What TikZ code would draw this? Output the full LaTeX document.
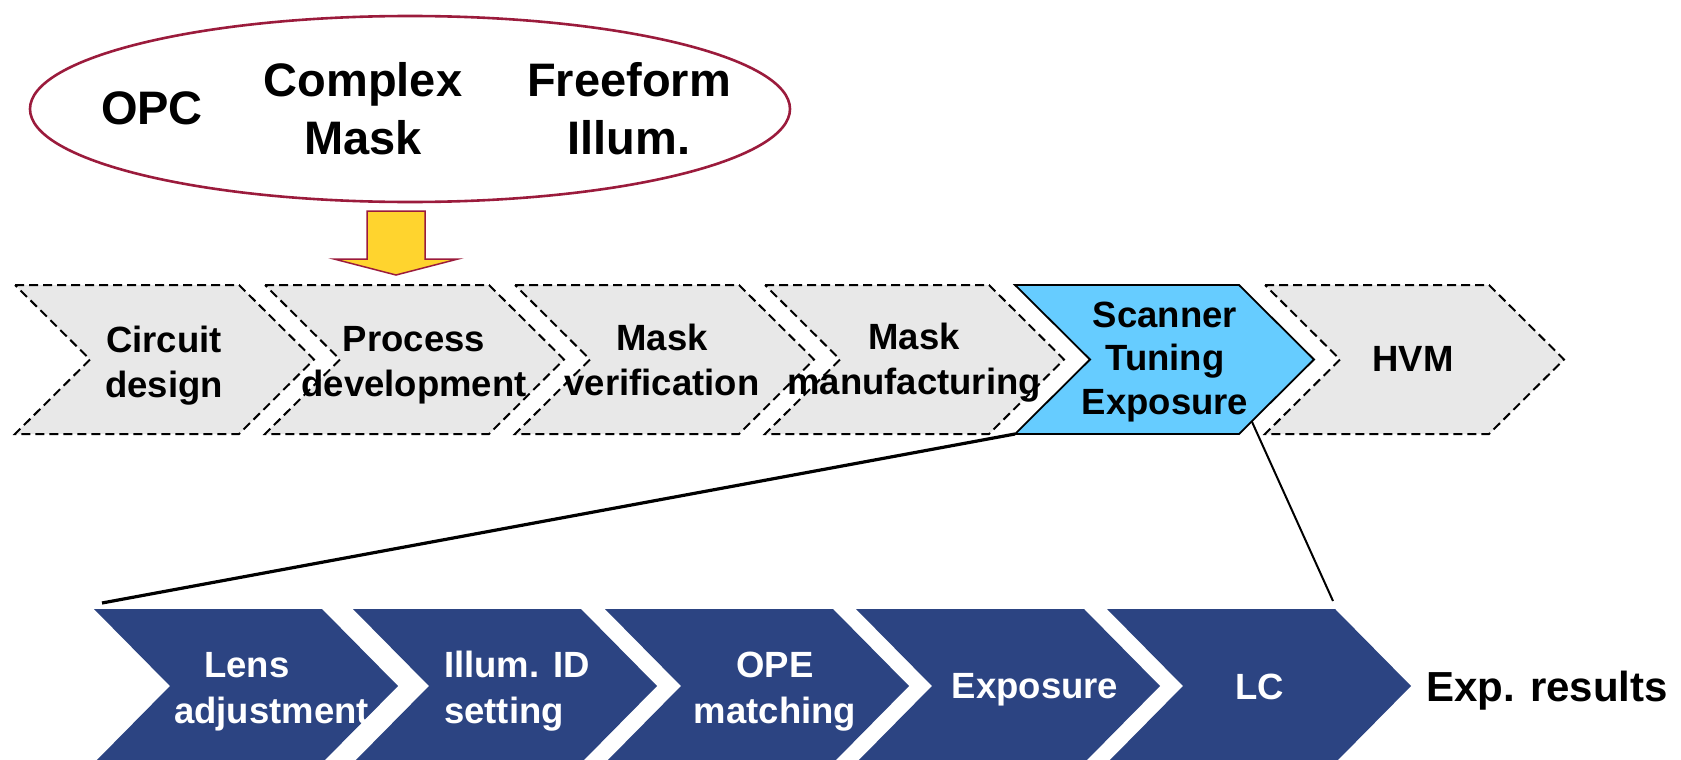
\documentclass[tikz,border=0pt]{standalone}
\usepackage{fontspec}
\setmainfont{Liberation Sans}
\usetikzlibrary{shapes.geometric,calc}
\definecolor{stepgray}{HTML}{E8E8E8}
\definecolor{scanblue}{HTML}{66CCFF}
\definecolor{navy}{HTML}{2C4482}
\definecolor{maroon}{HTML}{9B1B3C}
\definecolor{gold}{HTML}{FFD42E}
\begin{document}
\begin{tikzpicture}[x=1pt,y=-1pt,
  phase/.style={fill=stepgray,draw=black,line width=2pt,dash pattern=on 9pt off 5pt},
  active/.style={fill=scanblue,draw=black,line width=1.8pt},
  substep/.style={fill=navy},
  lbl/.style={font=\bfseries\fontsize{36.5}{45}\selectfont,align=center,inner sep=0pt},
  sublbl/.style={font=\bfseries\fontsize{36.5}{46}\selectfont,text=white,inner sep=0pt},
  techlbl/.style={font=\bfseries\fontsize{47}{58}\selectfont,align=center,inner sep=0pt},
]
\useasboundingbox (0,0) rectangle (1681,760);
\clip (0,0) rectangle (1681,760);

% technology bubble
\node[ellipse,draw=maroon,line width=2.6pt,minimum width=760pt,minimum height=186pt,inner sep=0pt] (tech) at (410,109) {};
\node[techlbl] (opc) at (152,108) {OPC};
\node[techlbl] (cmask) at (363,109) {Complex\\Mask};
\node[techlbl] (ffill) at (629,109) {Freeform\\Illum.};

% block arrow into process development
\draw[fill=gold,draw=maroon,line width=1.5pt,line join=miter]
  (367,211) -- (425,211) -- (425,259) -- (458,259) -- (396,275) -- (334,259) -- (367,259) -- cycle;

% main flow chevrons
\foreach \i in {0,1,2,3,5} {
  \pgfmathsetmacro\L{15+250*\i}
  \draw[phase] (\L,285) -- ({\L+224},285) -- ({\L+299},359.5) -- ({\L+224},434)
    -- (\L,434) -- ({\L+75},359.5) -- cycle;
}
\draw[active] (1015,285) -- (1239,285) -- (1314,359.5) -- (1239,434)
  -- (1015,434) -- (1090,359.5) -- cycle;
\coordinate (scanBL) at (1015,434);
\coordinate (scanBR) at ($(1239,434)!0.17!(1314,359.5)$);

\node[lbl] (cd) at (164,366) {Circuit\\design};
\node[lbl] (pd) at (414,365) {Process\\development};
\node[lbl] (mv) at (662,360) {Mask\\verification};
\node[lbl] (mm) at (914,363) {Mask\\manufacturing};
\node[lbl,font=\bfseries\fontsize{36.5}{43.5}\selectfont] (ste) at (1165,362) {Scanner\\Tuning\\Exposure};
\node[lbl] (hvm) at (1413,359) {HVM};

% scanner sub-steps
\foreach \L in {94,353,605,856,1107} {
  \fill[substep] (\L,609) -- ({\L+228},609) -- ({\L+304},686) -- ({\L+228},763)
    -- (\L,763) -- ({\L+76},686) -- cycle;
}
\coordinate (subTL) at (102,603);
\coordinate (subTR) at (1333,601);

\draw[line width=3.2pt] (scanBL) -- (subTL);
\draw[line width=2pt] (scanBR) -- (subTR);

\node[sublbl,align=left,anchor=west] (lens) at (174,691.6) {\hspace*{30pt}Lens\\adjustment};
\node[sublbl,align=left,anchor=west] (illum) at (444,691.6) {Illum. ID\\setting};
\node[sublbl,align=center] (ope) at (775,691.6) {OPE\\matching};
\node[sublbl] (expo) at (1035,690) {Exposure};
\node[sublbl] (lc) at (1260,686.5) {LC};
\node[font=\bfseries\fontsize{42}{50}\selectfont,inner sep=0pt] (res) at (1547,691) {Exp. results};
\end{tikzpicture}
\end{document}
